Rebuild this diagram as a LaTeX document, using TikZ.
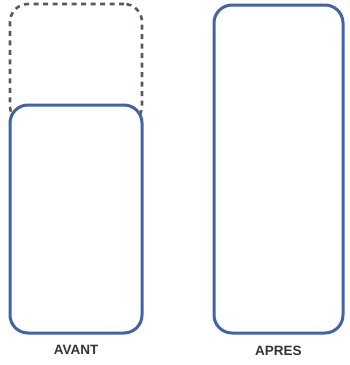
\documentclass[tikz,border=0pt]{standalone}
\usepackage{fontspec}
\setmainfont{Liberation Sans}
\usetikzlibrary{positioning}
\definecolor{boxblue}{HTML}{4164A8}
\definecolor{ghostgray}{HTML}{555A62}
\definecolor{labelgray}{HTML}{333333}

\begin{document}
\begin{tikzpicture}[
  tankbox/.style   = {draw=boxblue, line width=3pt, rounded corners=18pt, fill=white, inner sep=0pt},
  tankghost/.style = {draw=ghostgray, line width=2.6pt, dash pattern=on 5pt off 4.5pt, rounded corners=18pt, inner sep=0pt},
  tanklabel/.style = {text=labelgray, font=\fontsize{13.5}{15}\selectfont\bfseries, inner sep=0pt},
  x=1pt, y=-1pt,
]
  \useasboundingbox (0,0) rectangle (349,365);

  \node[tankghost, minimum width=132pt, minimum height=120pt] (ghost) at (76,64) {};
  \node[tankbox, minimum width=132pt, minimum height=228pt] (avant) at (76,219) {};
  \node[tankbox, minimum width=129pt, minimum height=328pt] (apres) at (278.5,169) {};
  \node[tanklabel, below=11pt of avant] (lavant) {AVANT};
  \node[tanklabel, below=11pt of apres] (lapres) {APRES};
\end{tikzpicture}
\end{document}
